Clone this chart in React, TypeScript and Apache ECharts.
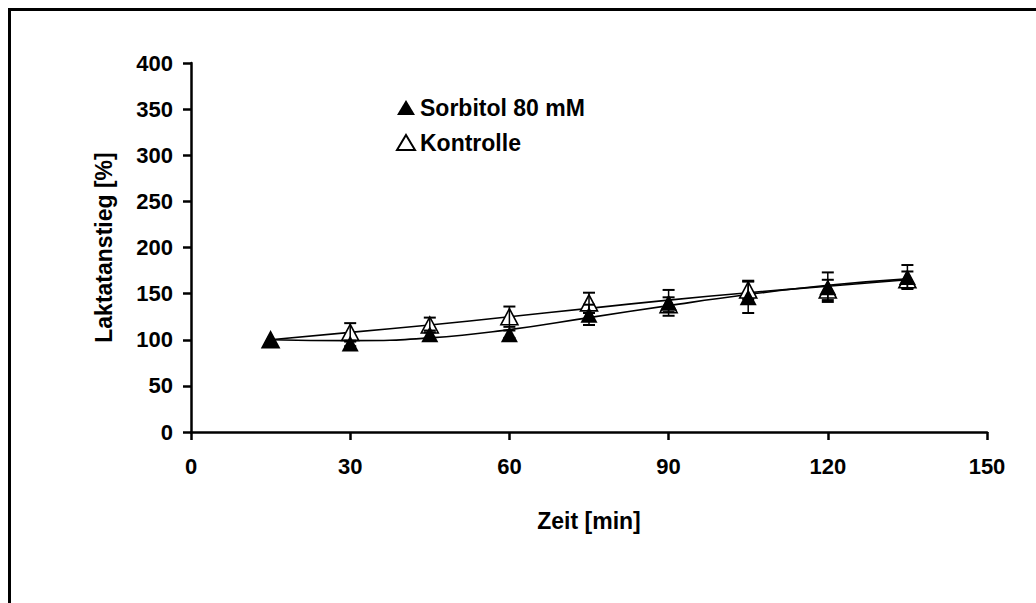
import React, { useEffect, useRef } from "react";
import * as echarts from "echarts";

const timeMin = [15, 30, 45, 60, 75, 90, 105, 120, 135];
const sorbitolMean = [100, 96, 106, 106, 127, 140, 146, 157, 168];
const sorbitolErr = [0, 3, 4, 4, 11, 14, 17, 16, 13];
const kontrolleMean = [100, 108, 116, 125, 140, 138, 154, 154, 165];
const kontrolleErr = [0, 10, 8, 11, 11, 8, 10, 11, 9];
const sorbitolTrend = [100, 99, 102, 111, 124, 137, 149, 159, 166];
const kontrolleTrend = [100, 108, 116, 125, 134, 143, 151, 158, 165];
const xTicks = { min: 0, max: 150, interval: 30 };
const yTicks = { min: 0, max: 400, interval: 50 };

const FONT = "'Liberation Sans', Arial, sans-serif";

function errorBars(mean: number[], err: number[]) {
  return timeMin.map((t, i) => [t, mean[i], err[i]]);
}

function renderErr(params: any, api: any) {
  const x = api.value(0);
  const y = api.value(1);
  const e = api.value(2);
  if (!e) return { type: "group", children: [] };
  const top = api.coord([x, y + e]);
  const bot = api.coord([x, y - e]);
  const hw = 6;
  const st = { stroke: "#000", lineWidth: 2 };
  return {
    type: "group",
    children: [
      { type: "line", shape: { x1: top[0], y1: top[1], x2: bot[0], y2: bot[1] }, style: { stroke: "#000", lineWidth: 1.5 } },
      { type: "line", shape: { x1: top[0] - hw, y1: top[1], x2: top[0] + hw, y2: top[1] }, style: st },
      { type: "line", shape: { x1: bot[0] - hw, y1: bot[1], x2: bot[0] + hw, y2: bot[1] }, style: st },
    ],
  };
}

export default function App() {
  const ref = useRef<HTMLDivElement>(null);
  useEffect(() => {
    if (!ref.current) return;
    const chart = echarts.init(ref.current, undefined, { renderer: "svg" });
    const axisCommon = {
      axisLine: { show: true, lineStyle: { color: "#000", width: 2.5 } },
      axisTick: { show: true, inside: false, length: 8, lineStyle: { color: "#000", width: 2.5 } },
      splitLine: { show: false },
      nameTextStyle: { color: "#000", fontFamily: FONT, fontWeight: "bold", fontSize: 23 },
    };
    chart.setOption({
      animation: false,
      backgroundColor: "#fff",
      graphic: [
        {
          type: "rect",
          shape: { x: 9.5, y: 9.5, width: 1200, height: 800 },
          style: { fill: "none", stroke: "#000", lineWidth: 3 },
          silent: true,
        },
      ],
      grid: { left: 191, right: 49, top: 63, bottom: 171, containLabel: false },
      legend: {
        data: ["Sorbitol 80 mM", "Kontrolle"],
        orient: "vertical",
        left: 391,
        top: 91,
        itemWidth: 18,
        itemHeight: 15,
        itemGap: 12,
        icon: "triangle",
        textStyle: { color: "#000", fontFamily: FONT, fontWeight: "bold", fontSize: 23 },
      },
      xAxis: {
        type: "value",
        ...xTicks,
        name: "Zeit [min]",
        nameLocation: "middle",
        nameGap: 77,
        ...axisCommon,
        axisLabel: { color: "#000", fontFamily: FONT, fontWeight: "bold", fontSize: 22, margin: 23 },
      },
      yAxis: {
        type: "value",
        ...yTicks,
        name: "Laktatanstieg [%]",
        nameLocation: "middle",
        nameGap: 76,
        ...axisCommon,
        axisLabel: { color: "#000", fontFamily: FONT, fontWeight: "bold", fontSize: 22, margin: 18 },
      },
      series: [
        {
          name: "Kontrolle Trend",
          type: "line",
          data: timeMin.map((t, i) => [t, kontrolleTrend[i]]),
          smooth: 0.5,
          showSymbol: false,
          lineStyle: { color: "#000", width: 1.6 },
          z: 1,
        },
        {
          name: "Sorbitol Trend",
          type: "line",
          data: timeMin.map((t, i) => [t, sorbitolTrend[i]]),
          smooth: 0.5,
          showSymbol: false,
          lineStyle: { color: "#000", width: 1.6 },
          z: 1,
        },
        {
          name: "Kontrolle",
          type: "scatter",
          data: timeMin.map((t, i) => [t, kontrolleMean[i]]),
          symbol: "triangle",
          symbolSize: [17, 16],
          itemStyle: { color: "#fff", borderColor: "#000", borderWidth: 1.6, opacity: 1 },
          z: 3,
        },
        {
          name: "Sorbitol 80 mM",
          type: "scatter",
          data: timeMin.map((t, i) => [t, sorbitolMean[i]]),
          symbol: "triangle",
          symbolSize: [17, 16],
          itemStyle: { color: "#000", borderColor: "#000", borderWidth: 0, opacity: 1 },
          z: 4,
        },
        {
          name: "Kontrolle Err",
          type: "custom",
          data: errorBars(kontrolleMean, kontrolleErr),
          renderItem: renderErr,
          z: 5,
        },
        {
          name: "Sorbitol Err",
          type: "custom",
          data: errorBars(sorbitolMean, sorbitolErr),
          renderItem: renderErr,
          z: 5,
        },
      ],
    });
    return () => chart.dispose();
  }, []);
  return (
    <div
      ref={ref}
      style={{ position: "fixed", left: 0, top: 0, width: 1036, height: 603, background: "#fff" }}
    />
  );
}
